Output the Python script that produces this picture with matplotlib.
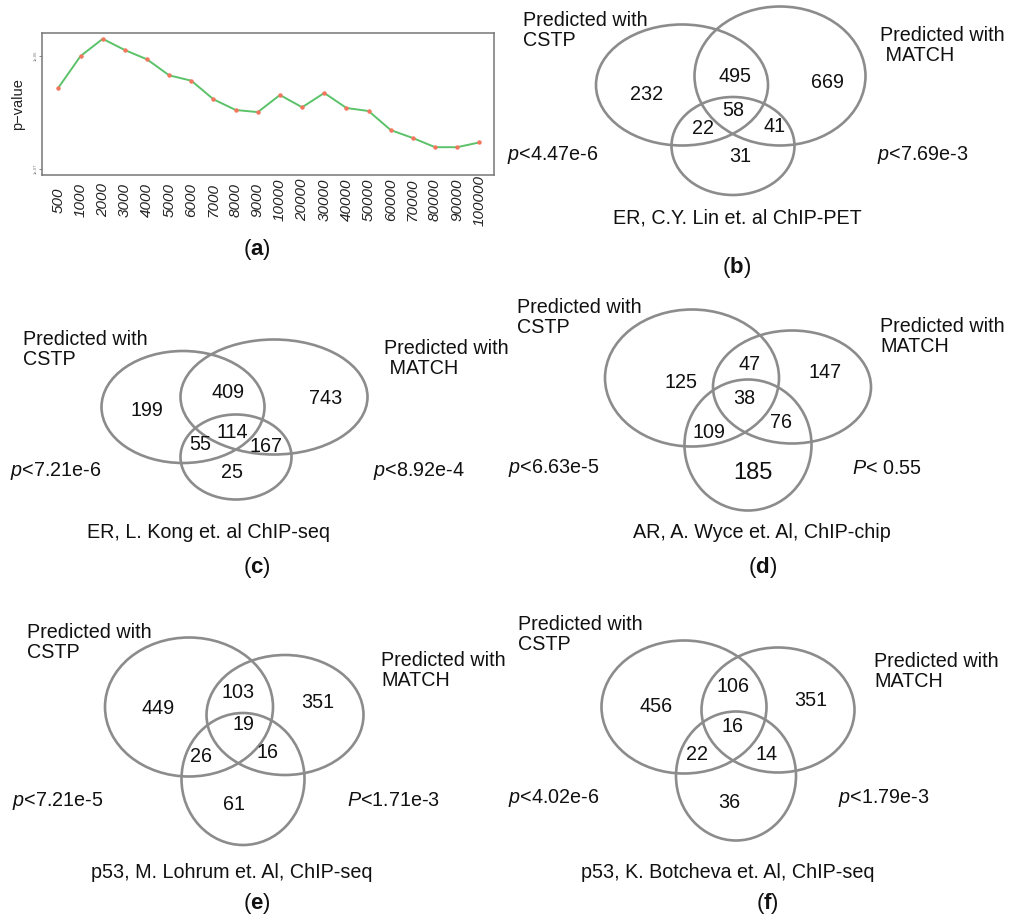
import matplotlib
matplotlib.use("Agg")
import matplotlib.pyplot as plt
from matplotlib.patches import Ellipse

plt.rcParams['font.family'] = ['Liberation Sans', 'DejaVu Sans']
plt.rcParams['mathtext.fontset'] = 'custom'
plt.rcParams['mathtext.rm'] = 'Liberation Sans'
plt.rcParams['mathtext.it'] = 'Liberation Sans:italic'
plt.rcParams['mathtext.bf'] = 'Liberation Sans:bold'

# ---- panel (a) data ----
window_sizes = ["500", "1000", "2000", "3000", "4000", "5000", "6000", "7000", "8000", "9000",
                "10000", "20000", "30000", "40000", "50000", "60000", "70000", "80000", "90000", "100000"]
p_values = [5.25e-7, 1.00e-6, 1.42e-6, 1.13e-6, 9.35e-7, 6.75e-7, 6.05e-7, 4.14e-7, 3.33e-7, 3.19e-7,
            4.52e-7, 3.52e-7, 4.71e-7, 3.47e-7, 3.26e-7, 2.21e-7, 1.88e-7, 1.56e-7, 1.56e-7, 1.72e-7]

# ---- Venn panels data: region counts (CSTP only, CSTP&MATCH, MATCH only, all, CSTP&ChIP, MATCH&ChIP, ChIP only)
venn_counts = {
    "b": ["232", "495", "669", "58", "22", "41", "31"],
    "c": ["199", "409", "743", "114", "55", "167", "25"],
    "d": ["125", "47", "147", "38", "109", "76", "185"],
    "e": ["449", "103", "351", "19", "26", "16", "61"],
    "f": ["456", "106", "351", "16", "22", "14", "36"],
}
venn_pvals = {
    "b": (r"$\it{p}$<4.47e-6", r"$\it{p}$<7.69e-3"),
    "c": (r"$\it{p}$<7.21e-6", r"$\it{p}$<8.92e-4"),
    "d": (r"$\it{p}$<6.63e-5", r"$\it{P}$< 0.55"),
    "e": (r"$\it{p}$<7.21e-5", r"$\it{P}$<1.71e-3"),
    "f": (r"$\it{p}$<4.02e-6", r"$\it{p}$<1.79e-3"),
}
venn_sources = {
    "b": "ER, C.Y. Lin et. al ChIP-PET",
    "c": "ER, L. Kong et. al ChIP-seq",
    "d": "AR, A. Wyce et. Al, ChIP-chip",
    "e": "p53, M. Lohrum et. Al, ChIP-seq",
    "f": "p53, K. Botcheva et. Al, ChIP-seq",
}
match_labels = {
    "b": "Predicted with\n MATCH",
    "c": "Predicted with\n MATCH",
    "d": "Predicted with\nMATCH",
    "e": "Predicted with\nMATCH",
    "f": "Predicted with\nMATCH",
}

# ---- layout (figure pixels, y downward) ----
# ellipses: (cx, cy, w, h) for CSTP, MATCH, ChIP
ellipses = {
    "b": [(682, 85, 172, 121), (780, 76, 171, 139), (733, 146, 123, 98)],
    "c": [(183, 407, 163, 112), (274, 397, 187, 115), (236, 457, 111, 85)],
    "d": [(692, 378, 174, 137), (792, 387, 158, 113), (748, 445, 127, 131)],
    "e": [(189, 707, 168, 139), (285, 715, 157, 120), (243, 779, 123, 132)],
    "f": [(684, 707, 165, 133), (778, 710, 153, 125), (736, 776, 120, 129)],
}
count_pos = {
    "b": [(647, 95), (735, 77), (827, 82), (733, 110), (703, 128), (775, 126), (740, 157)],
    "c": [(147, 410), (228, 392), (326, 398), (232, 432), (200, 445), (266, 446), (232, 473)],
    "d": [(681, 382), (750, 364), (825, 373), (744, 399), (709, 432), (781, 423), (753, 473)],
    "e": [(158, 708), (238, 693), (318, 703), (243, 725), (201, 757), (268, 752), (234, 805)],
    "f": [(656, 707), (733, 687), (811, 701), (733, 727), (697, 754), (767, 754), (729, 802)],
}
# cstp label (left, top), match label (left, top), p left x, p right x, p y, source (cx, y), panel letter (cx, y)
text_pos = {
    "b": [(523, 11), (880, 26), 507, 877, 155, (737, 218), (737, 267)],
    "c": [(23, 330), (384, 339), 10, 373, 471, (209, 533), (257, 567)],
    "d": [(517, 298), (880, 317), 508, 852, 468, (762, 532), (763, 567)],
    "e": [(27, 623), (381, 651), 12, 347, 801, (232, 872), (257, 903)],
    "f": [(518, 615), (874, 652), 508, 838, 798, (728, 872), (767, 903)],
}

W, H = 1012, 917
fig = plt.figure(figsize=(W / 100, H / 100), dpi=100)

ov = fig.add_axes([0, 0, 1, 1])
ov.set_xlim(0, W)
ov.set_ylim(H, 0)
ov.axis('off')

fs = 14.2
edge = '#8c8c8c'
for key in ["b", "c", "d", "e", "f"]:
    for (cx, cy, w, h) in ellipses[key]:
        ov.add_patch(Ellipse((cx, cy), w, h, fill=False, edgecolor=edge, linewidth=1.9))
    for i, (lab, (x, y)) in enumerate(zip(venn_counts[key], count_pos[key])):
        size = 17 if (key == "d" and i == 6) else fs
        ov.text(x, y, lab, ha='center', va='center', fontsize=size, color='#111111')
    tp = text_pos[key]
    ov.text(tp[0][0], tp[0][1], "Predicted with\nCSTP", ha='left', va='top',
            fontsize=fs, linespacing=1.07, color='#111111')
    ov.text(tp[1][0], tp[1][1], match_labels[key], ha='left', va='top',
            fontsize=fs, linespacing=1.07, color='#111111')
    ov.text(tp[2], tp[4], venn_pvals[key][0], ha='left', va='center', fontsize=fs, color='#111111')
    ov.text(tp[3], tp[4], venn_pvals[key][1], ha='left', va='center', fontsize=fs, color='#111111')
    ov.text(tp[5][0], tp[5][1], venn_sources[key], ha='center', va='center', fontsize=fs, color='#111111')
    ov.text(tp[6][0], tp[6][1], "($\\mathbf{%s}$)" % key, ha='center', va='center', fontsize=16, color='#111111')

ov.text(257, 250, r"($\mathbf{a}$)", ha='center', va='center', fontsize=16, color='#111111')

# ---- panel (a) ----
ax = fig.add_axes([42 / W, 1 - 175 / H, (494 - 42) / W, (175 - 33) / H])
x = list(range(len(window_sizes)))
ax.plot(x, p_values, color='#5cc26a', linewidth=1.4, zorder=2)
ax.plot(x, p_values, 'o', color='#f4765f', markersize=2.2, zorder=3)
ax.set_yscale('log')
ax.set_xlim(-0.74, 19.66)
ax.set_ylim(8.85e-8, 1.6e-6)
ax.set_yticks([1e-7, 1e-6])
ax.set_yticklabels(["1e-07", "1e-06"], fontsize=3, rotation=90, va='center', color='#777777')
ax.minorticks_off()
ax.set_xticks(x)
ax.set_xticklabels(window_sizes, rotation=90, fontsize=11, style='italic', va='center',
                   ha='center', color='#222222')
ax.tick_params(axis='x', length=0, pad=18)
ax.tick_params(axis='y', length=2, width=0.6, color='#777777', pad=1)
for s in ax.spines.values():
    s.set_color('#777777')
    s.set_linewidth(1.1)
ax.set_ylabel("p\u2212value", fontsize=10.5, color='#222222', labelpad=6)

fig.savefig("out.png", dpi=100, facecolor='white')
